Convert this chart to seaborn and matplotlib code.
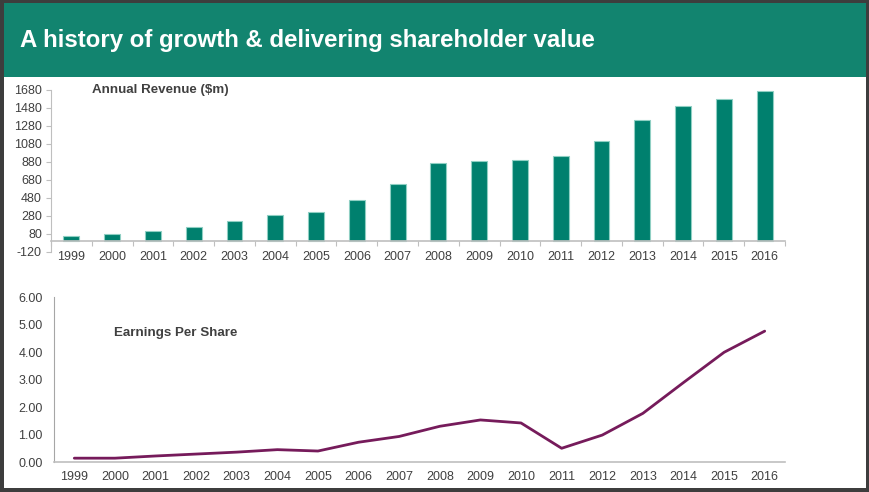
import numpy as np
import pandas as pd
import matplotlib
matplotlib.use("Agg")
import matplotlib.pyplot as plt
import seaborn as sns
from matplotlib.patches import Rectangle
from matplotlib.ticker import FixedLocator

years = [str(y) for y in range(1999, 2017)]
revenue = [51, 77, 114, 154, 224, 290, 323, 452, 629, 861, 883, 897, 941, 1110, 1339, 1501, 1574, 1666]
eps = [0.15, 0.15, 0.23, 0.30, 0.37, 0.46, 0.41, 0.73, 0.94, 1.31, 1.54, 1.43, 0.51, 0.99, 1.78, 2.90, 4.00, 4.77]
rev_ticks = list(range(-120, 1681, 200))
eps_ticks = [0, 1, 2, 3, 4, 5, 6]
title = "A history of growth & delivering shareholder value"
rev_label = "Annual Revenue ($m)"
eps_label = "Earnings Per Share"

sns.set_theme(style="white")
plt.rcParams['font.family'] = ['Liberation Sans', 'DejaVu Sans']
plt.rcParams['axes.unicode_minus'] = False

W, H = 869, 492
fig = plt.figure(figsize=(W / 100, H / 100), dpi=100, facecolor="#3d3d3d")

def fx(px):
    return px / W

def fy(py):
    return 1 - py / H

# white page and teal header
fig.patches.append(Rectangle((fx(4), fy(488)), fx(866 - 4), (488 - 3) / H,
                             transform=fig.transFigure, facecolor="white", edgecolor="none", zorder=-3))
fig.patches.append(Rectangle((fx(4), fy(77)), fx(866 - 4), (77 - 3) / H,
                             transform=fig.transFigure, facecolor="#12846f", edgecolor="none", zorder=-2))
fig.text(fx(20), fy(41), title, color="white", fontsize=17.3, fontweight="bold",
         va="center", ha="left")

tick_color = "#404040"
spine_color = "#bfbfbf"
fs = 9

# ---- Revenue bars
ax1 = fig.add_axes([fx(51), fy(251.7), fx(785 - 51), (251.7 - 89.5) / H])
ax1.set_facecolor("none")
ax1.set_zorder(2)
df1 = pd.DataFrame({"year": years, "revenue": revenue})
sns.barplot(data=df1, x="year", y="revenue", ax=ax1, color="#00806e", width=0.39,
            saturation=1, edgecolor="#8fcfc3", linewidth=0.8)
ax1.set_ylim(-120, 1680)
ax1.set_xlim(-0.5, 17.5)
ax1.set_yticks(rev_ticks)
ax1.set_xlabel("")
ax1.set_ylabel("")
for s in ["top", "right"]:
    ax1.spines[s].set_visible(False)
ax1.spines["bottom"].set_position(("data", 0))
ax1.spines["bottom"].set_color(spine_color)
ax1.spines["left"].set_color(spine_color)
ax1.spines["bottom"].set_linewidth(1.2)
ax1.spines["left"].set_linewidth(0.8)
ax1.xaxis.set_minor_locator(FixedLocator(np.arange(-0.5, 18, 1)))
ax1.tick_params(axis="x", which="major", length=0, pad=7, labelsize=fs, labelcolor=tick_color)
ax1.tick_params(axis="x", which="minor", length=3.5, width=0.8, color=spine_color, direction="out", bottom=True)
ax1.tick_params(axis="y", which="major", length=3.5, width=0.8, color=spine_color, left=True,
                pad=3, labelsize=fs, labelcolor=tick_color)
ax1.text((92 - 51) / (785 - 51), 0.995, rev_label, transform=ax1.transAxes, fontsize=9.6,
         fontweight="bold", color="#404040", ha="left", va="center")

# ---- EPS line
ax2 = fig.add_axes([fx(54), fy(462.3), fx(785 - 54), (462.3 - 297.3) / H])
ax2.set_facecolor("none")
ax2.set_zorder(2)
df2 = pd.DataFrame({"year": years, "eps": eps})
sns.lineplot(data=df2, x="year", y="eps", ax=ax2, color="#761b5b", linewidth=2, sort=False)
ax2.set_ylim(0, 6)
ax2.set_xlim(-0.5, 17.5)
ax2.set_yticks(eps_ticks)
ax2.set_yticklabels([f"{v:.2f}" for v in eps_ticks])
ax2.set_xlabel("")
ax2.set_ylabel("")
for s in ["top", "right"]:
    ax2.spines[s].set_visible(False)
ax2.spines["bottom"].set_color(spine_color)
ax2.spines["left"].set_color("#a6a6a6")
ax2.spines["bottom"].set_linewidth(1.2)
ax2.spines["left"].set_linewidth(0.8)
ax2.tick_params(axis="x", length=0, pad=6, labelsize=fs, labelcolor=tick_color)
ax2.tick_params(axis="y", length=0, pad=8, labelsize=fs, labelcolor=tick_color)
ax2.text((114 - 54) / (785 - 54), 4.71, eps_label, transform=ax2.get_yaxis_transform(),
         fontsize=9.6, fontweight="bold", color="#404040", ha="left", va="center")

fig.savefig("out.png", dpi=100, facecolor=fig.get_facecolor())
